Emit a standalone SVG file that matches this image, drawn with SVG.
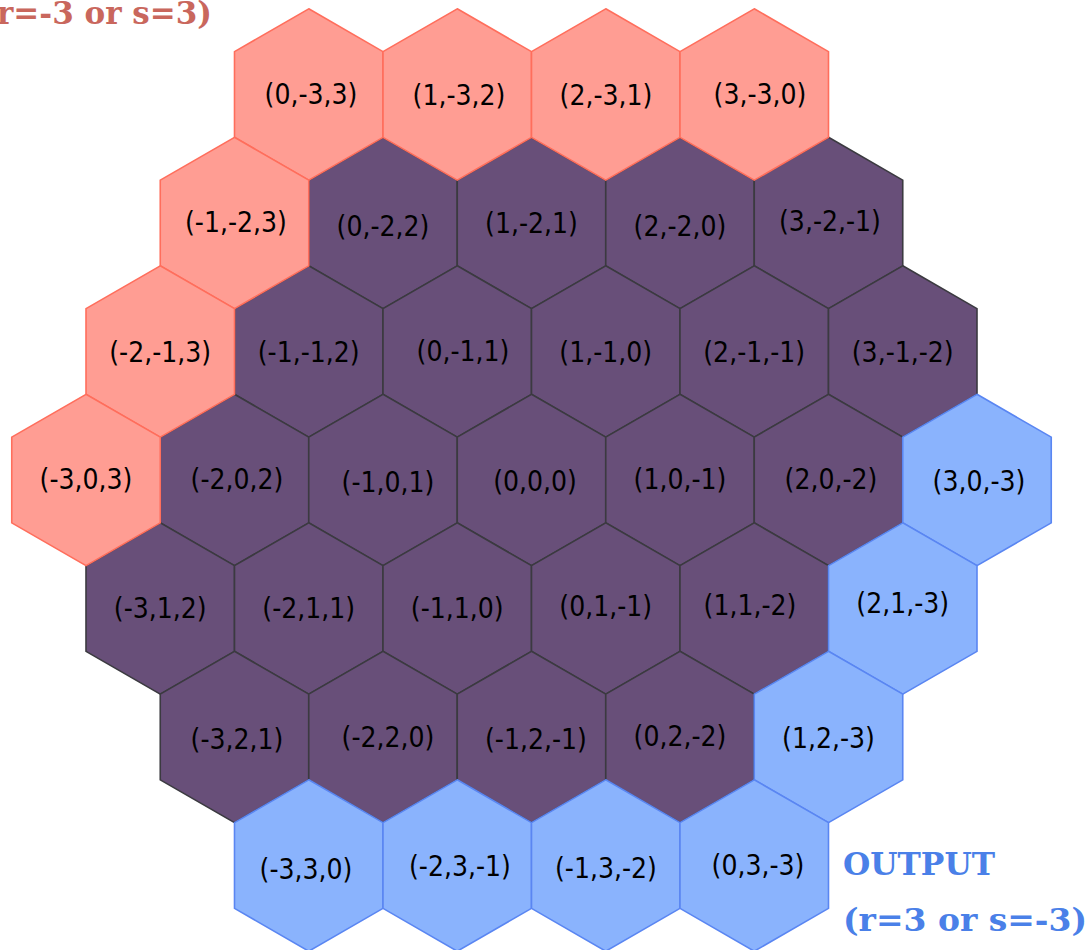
<svg xmlns="http://www.w3.org/2000/svg" xmlns:xlink="http://www.w3.org/1999/xlink" width="1091" height="950" viewBox="0 0 1091 950">
<style>
.p{fill:#684f79;stroke:#3b3a40;stroke-width:1.6}
.r{fill:#ff9d93;stroke:#ff6e5c;stroke-width:1.6}
.b{fill:#8ab3fd;stroke:#5a86f2;stroke-width:1.6}
.t{font-family:"DejaVu Sans Condensed","DejaVu Sans",Verdana,sans-serif;font-stretch:condensed;font-size:28px;fill:#000;text-anchor:middle;dominant-baseline:central}
.h1{font-family:"DejaVu Serif","Liberation Serif",serif;font-weight:bold;font-size:31px;fill:#c9675d}
.h2{font-family:"DejaVu Serif","Liberation Serif",serif;font-weight:bold;font-size:32px;fill:#4a80e8}
</style>
<defs>
<polygon id="hex" points="0,-85.7 74.25,-42.85 74.25,42.85 0,85.7 -74.25,42.85 -74.25,-42.85"/>
</defs>
<g id="connectors"/>
<g id="inner">
<g id="h_0_-2_2"><use xlink:href="#hex" class="p" x="383" y="223"/><text class="t" x="383" y="226">(0,-2,2)</text></g>
<g id="h_1_-2_1"><use xlink:href="#hex" class="p" x="531.5" y="223"/><text class="t" x="531.5" y="223">(1,-2,1)</text></g>
<g id="h_2_-2_0"><use xlink:href="#hex" class="p" x="680" y="223"/><text class="t" x="680" y="226">(2,-2,0)</text></g>
<g id="h_3_-2_-1"><use xlink:href="#hex" class="p" x="828.5" y="223"/><text class="t" x="830" y="221">(3,-2,-1)</text></g>
<g id="h_-1_-1_2"><use xlink:href="#hex" class="p" x="308.75" y="351.5"/><text class="t" x="308.75" y="352">(-1,-1,2)</text></g>
<g id="h_0_-1_1"><use xlink:href="#hex" class="p" x="457.25" y="351.5"/><text class="t" x="463" y="351">(0,-1,1)</text></g>
<g id="h_1_-1_0"><use xlink:href="#hex" class="p" x="605.75" y="351.5"/><text class="t" x="605.75" y="352">(1,-1,0)</text></g>
<g id="h_2_-1_-1"><use xlink:href="#hex" class="p" x="754.25" y="351.5"/><text class="t" x="754.25" y="352">(2,-1,-1)</text></g>
<g id="h_3_-1_-2"><use xlink:href="#hex" class="p" x="902.75" y="351.5"/><text class="t" x="902.75" y="352">(3,-1,-2)</text></g>
<g id="h_-2_0_2"><use xlink:href="#hex" class="p" x="234.5" y="480"/><text class="t" x="237" y="479">(-2,0,2)</text></g>
<g id="h_-1_0_1"><use xlink:href="#hex" class="p" x="383" y="480"/><text class="t" x="388" y="482">(-1,0,1)</text></g>
<g id="h_0_0_0"><use xlink:href="#hex" class="p" x="531.5" y="480"/><text class="t" x="535" y="481">(0,0,0)</text></g>
<g id="h_1_0_-1"><use xlink:href="#hex" class="p" x="680" y="480"/><text class="t" x="680" y="479">(1,0,-1)</text></g>
<g id="h_2_0_-2"><use xlink:href="#hex" class="p" x="828.5" y="480"/><text class="t" x="831" y="479">(2,0,-2)</text></g>
<g id="h_-3_1_2"><use xlink:href="#hex" class="p" x="160.25" y="608.5"/><text class="t" x="160.25" y="608">(-3,1,2)</text></g>
<g id="h_-2_1_1"><use xlink:href="#hex" class="p" x="308.75" y="608.5"/><text class="t" x="308.75" y="608">(-2,1,1)</text></g>
<g id="h_-1_1_0"><use xlink:href="#hex" class="p" x="457.25" y="608.5"/><text class="t" x="457.25" y="608">(-1,1,0)</text></g>
<g id="h_0_1_-1"><use xlink:href="#hex" class="p" x="605.75" y="608.5"/><text class="t" x="605.75" y="606">(0,1,-1)</text></g>
<g id="h_1_1_-2"><use xlink:href="#hex" class="p" x="754.25" y="608.5"/><text class="t" x="750" y="605">(1,1,-2)</text></g>
<g id="h_-3_2_1"><use xlink:href="#hex" class="p" x="234.5" y="737"/><text class="t" x="237" y="739">(-3,2,1)</text></g>
<g id="h_-2_2_0"><use xlink:href="#hex" class="p" x="383" y="737"/><text class="t" x="388" y="737">(-2,2,0)</text></g>
<g id="h_-1_2_-1"><use xlink:href="#hex" class="p" x="531.5" y="737"/><text class="t" x="536" y="739">(-1,2,-1)</text></g>
<g id="h_0_2_-2"><use xlink:href="#hex" class="p" x="680" y="737"/><text class="t" x="680" y="736">(0,2,-2)</text></g>
</g>
<g id="input">
<g id="h_0_-3_3"><use xlink:href="#hex" class="r" x="308.75" y="94.5"/><text class="t" x="311" y="94">(0,-3,3)</text></g>
<g id="h_1_-3_2"><use xlink:href="#hex" class="r" x="457.25" y="94.5"/><text class="t" x="459" y="95">(1,-3,2)</text></g>
<g id="h_2_-3_1"><use xlink:href="#hex" class="r" x="605.75" y="94.5"/><text class="t" x="606" y="95">(2,-3,1)</text></g>
<g id="h_3_-3_0"><use xlink:href="#hex" class="r" x="754.25" y="94.5"/><text class="t" x="760" y="94">(3,-3,0)</text></g>
<g id="h_-1_-2_3"><use xlink:href="#hex" class="r" x="234.5" y="223"/><text class="t" x="236" y="222">(-1,-2,3)</text></g>
<g id="h_-2_-1_3"><use xlink:href="#hex" class="r" x="160.25" y="351.5"/><text class="t" x="160.25" y="352">(-2,-1,3)</text></g>
<g id="h_-3_0_3"><use xlink:href="#hex" class="r" x="86" y="480"/><text class="t" x="86" y="479">(-3,0,3)</text></g>
</g>
<g id="output">
<g id="h_3_0_-3"><use xlink:href="#hex" class="b" x="977" y="480"/><text class="t" x="979" y="481">(3,0,-3)</text></g>
<g id="h_2_1_-3"><use xlink:href="#hex" class="b" x="902.75" y="608.5"/><text class="t" x="902.75" y="603">(2,1,-3)</text></g>
<g id="h_1_2_-3"><use xlink:href="#hex" class="b" x="828.5" y="737"/><text class="t" x="828.5" y="738">(1,2,-3)</text></g>
<g id="h_-3_3_0"><use xlink:href="#hex" class="b" x="308.75" y="865.5"/><text class="t" x="306" y="869">(-3,3,0)</text></g>
<g id="h_-2_3_-1"><use xlink:href="#hex" class="b" x="457.25" y="865.5"/><text class="t" x="460" y="866">(-2,3,-1)</text></g>
<g id="h_-1_3_-2"><use xlink:href="#hex" class="b" x="605.75" y="865.5"/><text class="t" x="606" y="868">(-1,3,-2)</text></g>
<g id="h_0_3_-3"><use xlink:href="#hex" class="b" x="754.25" y="865.5"/><text class="t" x="758" y="865">(0,3,-3)</text></g>
</g>
<g id="captions">
<text class="h1" x="212" y="24" text-anchor="end">(r=-3 or s=3)</text>
<text class="h2" x="843" y="875" textLength="152" lengthAdjust="spacingAndGlyphs">OUTPUT</text>
<text class="h2" x="843" y="931" textLength="244" lengthAdjust="spacingAndGlyphs">(r=3 or s=-3)</text>
</g>
</svg>
